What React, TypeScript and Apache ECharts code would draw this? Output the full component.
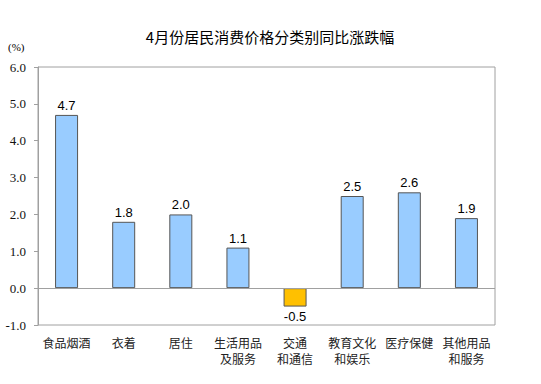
import React, { useEffect, useRef } from "react";
import * as echarts from "echarts";

const title = "4月份居民消费价格分类别同比涨跌幅";
const categories = [
  "食品烟酒",
  "衣着",
  "居住",
  "生活用品\n及服务",
  "交通\n和通信",
  "教育文化\n和娱乐",
  "医疗保健",
  "其他用品\n和服务",
];
const values = [4.7, 1.8, 2.0, 1.1, -0.5, 2.5, 2.6, 1.9];
const unitLabel = "(%)";

const SERIF = "Times New Roman, serif";
const SANS = "Arial, Liberation Sans, sans-serif";
const CJK = "Noto Sans CJK SC";

export default function App() {
  const ref = useRef<HTMLDivElement>(null);
  useEffect(() => {
    if (!ref.current) return;
    const chart = echarts.init(ref.current, null, { renderer: "svg" });
    chart.setOption({
      animation: false,
      backgroundColor: "#ffffff",
      textStyle: { fontFamily: SANS },
      title: {
        text: title,
        left: 265,
        textAlign: "center",
        top: 24,
        textStyle: {
          fontSize: 15,
          fontWeight: "normal",
          color: "#000",
          fontFamily: CJK,
        },
      },
      graphic: [
        {
          type: "text",
          left: 8,
          top: 41,
          style: {
            text: unitLabel,
            fontSize: 11,
            fontFamily: SERIF,
            fill: "#000",
          },
        },
      ],
      grid: {
        left: 38,
        top: 67,
        width: 457,
        height: 258,
        show: true,
        borderColor: "#a0a0a0",
        borderWidth: 1,
        containLabel: false,
      },
      xAxis: {
        type: "category",
        data: categories,
        axisLine: { show: false, onZero: false },
        axisTick: { show: false },
        axisLabel: {
          interval: 0,
          margin: 9,
          fontSize: 12,
          lineHeight: 16,
          color: "#222",
          fontFamily: CJK,
        },
      },
      yAxis: {
        type: "value",
        min: -1,
        max: 6,
        interval: 1,
        splitLine: { show: false },
        axisLine: { show: true, lineStyle: { color: "#a0a0a0" } },
        axisTick: { show: true, length: 4, lineStyle: { color: "#a0a0a0" } },
        axisLabel: {
          formatter: (v: number) => v.toFixed(1),
          fontSize: 13,
          fontWeight: "normal",
          margin: 12,
          color: "#111",
          fontFamily: SERIF,
        },
      },
      series: [
        {
          type: "bar",
          data: values.map((v) => ({
            value: v,
            itemStyle: { color: v < 0 ? "#ffc000" : "#99ccff" },
            label: { position: v < 0 ? "bottom" : "top" },
          })),
          barWidth: 23,
          itemStyle: { borderColor: "#555", borderWidth: 1 },
          label: {
            show: true,
            formatter: (p: any) => Number(p.value).toFixed(1),
            fontSize: 13,
            fontWeight: "normal",
            color: "#000",
            fontFamily: SANS,
            distance: 3,
          },
          markLine: {
            silent: true,
            symbol: "none",
            label: { show: false },
            lineStyle: { color: "#a0a0a0", width: 1, type: "solid" },
            data: [{ yAxis: 0 }],
          },
        },
      ],
    });
    return () => chart.dispose();
  }, []);
  return (
    <div
      ref={ref}
      style={{ position: "absolute", left: 0, top: 0, width: 541, height: 384 }}
    />
  );
}
